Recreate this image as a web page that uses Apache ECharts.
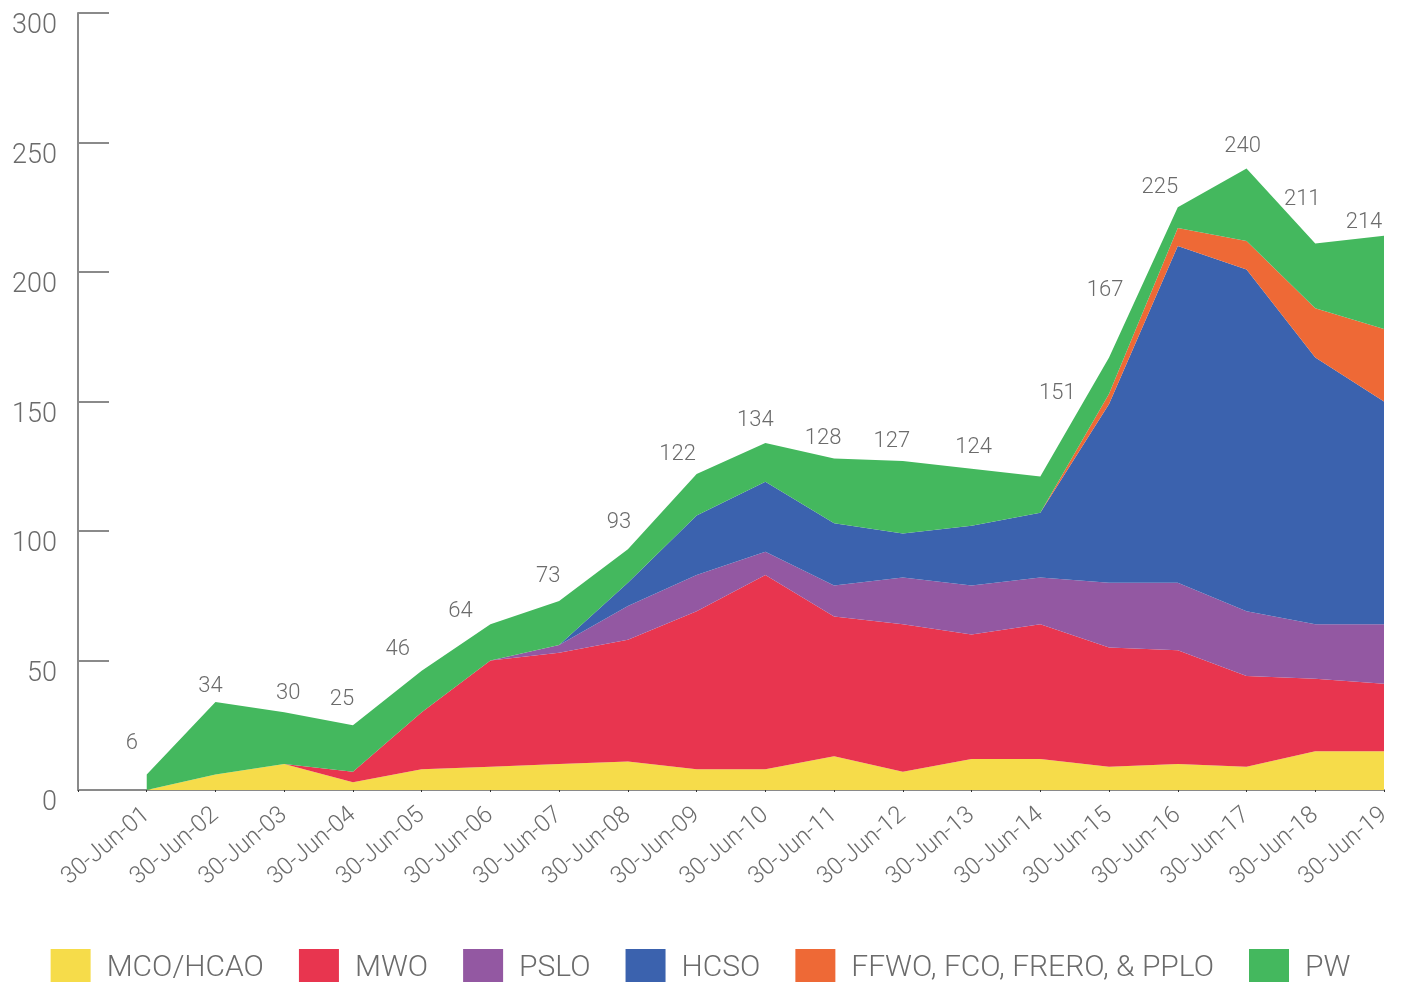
<!DOCTYPE html>
<html>
<head>
<meta charset="utf-8">
<script src="https://cdn.jsdelivr.net/npm/echarts@6/dist/echarts.min.js"></script>
<style>
html,body{margin:0;padding:0;background:#fff;}
#chart{width:1401px;height:982px;}
</style>
</head>
<body>
<div id="chart"></div>
<script>
const categories = ['30-Jun-01','30-Jun-02','30-Jun-03','30-Jun-04','30-Jun-05','30-Jun-06','30-Jun-07','30-Jun-08','30-Jun-09','30-Jun-10','30-Jun-11','30-Jun-12','30-Jun-13','30-Jun-14','30-Jun-15','30-Jun-16','30-Jun-17','30-Jun-18','30-Jun-19'];
const mcoHcao = [0, 6, 10, 3, 8, 9, 10, 11, 8, 8, 13, 7, 12, 12, 9, 10, 9, 15, 15];
const mwo     = [0, 0, 0, 4, 22, 41, 43, 47, 61, 75, 54, 57, 48, 52, 46, 44, 35, 28, 26];
const pslo    = [0, 0, 0, 0, 0, 0, 3, 13, 14, 9, 12, 18, 19, 18, 25, 26, 25, 21, 23];
const hcso    = [0, 0, 0, 0, 0, 0, 0, 9, 23, 27, 24, 17, 23, 25, 69, 130, 132, 103, 86];
const ffwo    = [0, 0, 0, 0, 0, 0, 0, 0, 0, 0, 0, 0, 0, 0, 4, 7, 11, 19, 28];
const pw      = [6, 28, 20, 18, 16, 14, 17, 13, 16, 15, 25, 28, 22, 14, 14, 8, 28, 25, 36];
const totalLabels = [6, 34, 30, 25, 46, 64, 73, 93, 122, 134, 128, 127, 124, 151, 167, 225, 240, 211, 214];
const yTicks = [0, 50, 100, 150, 200, 250, 300];

// label nudges (styling only)
const labelOffsets = [[-15,-10],[-5,6],[4,2],[-11,-5],[-24,0],[-30,8],[-11,-3],[-9,-6],[-19,1],[-10,-1],[-11,1],[-11,1],[2,0],[17,-62],[-4,-46],[-18,1],[-4,-1],[-13,-23],[-20,8]];

const FONT = 'Roboto, "Helvetica Neue", Arial, sans-serif';
const GREY = '#6b6b6b';

const seriesDefs = [
  {name: 'MCO/HCAO', data: mcoHcao, color: '#F6DC4A'},
  {name: 'MWO', data: mwo, color: '#E8354F'},
  {name: 'PSLO', data: pslo, color: '#9358A2'},
  {name: 'HCSO', data: hcso, color: '#3B62AE'},
  {name: 'FFWO, FCO, FRERO, & PPLO', data: ffwo, color: '#EE6936'},
  {name: 'PW', data: pw, color: '#44B85E'}
];

const xData = [''].concat(categories);

const series = seriesDefs.map((s, si) => {
  const isTop = si === seriesDefs.length - 1;
  let data = [null].concat(s.data);
  if (isTop) {
    data = [null].concat(s.data.map((v, i) => ({
      value: v,
      label: {offset: labelOffsets[i]}
    })));
  }
  return {
    name: s.name,
    type: 'line',
    stack: 'total',
    data: data,
    symbol: isTop ? 'circle' : 'none',
    symbolSize: isTop ? 0.01 : 0,
    showSymbol: isTop,
    smooth: false,
    itemStyle: {color: s.color},
    lineStyle: {width: 0, color: s.color},
    areaStyle: {color: s.color, opacity: 1},
    emphasis: {disabled: true},
    label: isTop ? {
      show: true,
      position: 'top',
      distance: 10,
      formatter: p => String(totalLabels[p.dataIndex - 1]),
      fontFamily: FONT,
      fontWeight: 300,
      fontSize: 22,
      color: GREY
    } : {show: false},
    animation: false
  };
});

const chart = echarts.init(document.getElementById('chart'), null, {renderer: 'canvas'});
chart.setOption({
  animation: false,
  backgroundColor: '#ffffff',
  grid: {left: 78, right: 17, top: 13, bottom: 192, containLabel: false},
  legend: {
    top: 944,
    left: 'center',
    icon: 'rect',
    itemWidth: 40,
    itemHeight: 38,
    itemGap: 35,
    textStyle: {fontFamily: FONT, fontWeight: 300, fontSize: 30, color: GREY, padding: [0, 0, 0, 11]},
    data: seriesDefs.map(s => s.name)
  },
  xAxis: {
    type: 'category',
    boundaryGap: false,
    data: xData,
    axisLine: {show: true, lineStyle: {color: '#8a8a8a', width: 2}},
    axisTick: {show: true, length: 2, alignWithLabel: true, lineStyle: {color: '#333', width: 1}},
    axisLabel: {
      interval: 0,
      rotate: 40,
      margin: 22,
      fontFamily: FONT,
      fontWeight: 300,
      fontSize: 24,
      color: GREY
    },
    splitLine: {show: false}
  },
  yAxis: {
    type: 'value',
    min: yTicks[0],
    max: yTicks[yTicks.length - 1],
    interval: yTicks[1] - yTicks[0],
    axisLine: {show: true, lineStyle: {color: '#8a8a8a', width: 2}},
    axisTick: {show: true, inside: true, length: 31, lineStyle: {color: '#8a8a8a', width: 2}},
    axisLabel: {
      margin: 21,
      verticalAlign: 'top',
      fontFamily: FONT,
      fontWeight: 300,
      fontSize: 27,
      color: GREY
    },
    splitLine: {show: false}
  },
  series: series
});
</script>
</body>
</html>
